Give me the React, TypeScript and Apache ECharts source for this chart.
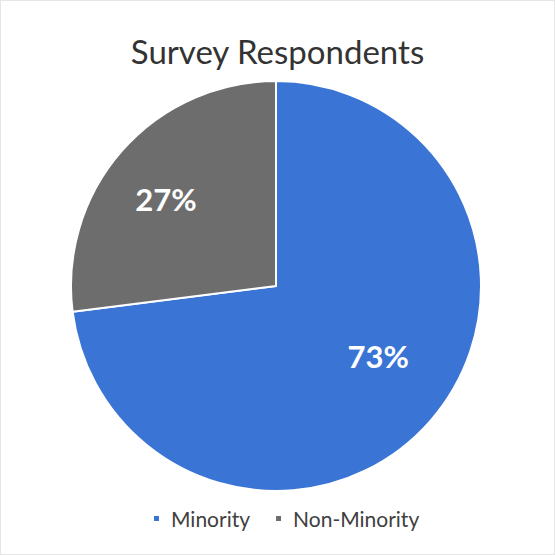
import React, { useEffect, useRef } from "react";
import * as echarts from "echarts";

const titleText = "Survey Respondents";
const categories = ["Minority", "Non-Minority"];
const values = [73, 27];
const colors = ["#3a75d5", "#6d6d6d"];
const labelOffsets: [number, number][] = [[23, 0], [-31, -17]];

export default function App() {
  const ref = useRef<HTMLDivElement>(null);
  useEffect(() => {
    if (!ref.current) return;
    const chart = echarts.init(ref.current, undefined, { renderer: "svg" });
    chart.setOption({
      animation: false,
      backgroundColor: "#ffffff",
      title: {
        text: titleText,
        left: "center",
        top: 28,
        textStyle: { fontFamily: "Lato", fontSize: 33, fontWeight: "normal", color: "#333333" },
      },
      legend: {
        data: categories,
        bottom: 20,
        left: 146,
        icon: "rect",
        itemWidth: 7,
        itemHeight: 7,
        itemGap: 24,
        textStyle: { fontFamily: "Lato", fontSize: 21, color: "#404040", padding: [0, 0, 0, 6] },
      },
      series: [
        {
          type: "pie",
          center: [275, 285],
          radius: 205,
          startAngle: 90,
          clockwise: true,
          label: {
            show: true,
            position: "inside",
            formatter: "{d}%",
            color: "#ffffff",
            fontFamily: "Lato",
            fontWeight: "bold",
            fontSize: 31,
          },
          labelLine: { show: false },
          itemStyle: { borderColor: "#ffffff", borderWidth: 2 },
          data: categories.map((name, i) => ({
            name,
            value: values[i],
            itemStyle: { color: colors[i] },
            label: { offset: labelOffsets[i] },
          })),
        },
      ],
    });
    return () => chart.dispose();
  }, []);
  return (
    <div
      ref={ref}
      style={{
        position: "fixed",
        left: 0,
        top: 0,
        width: 555,
        height: 555,
        boxSizing: "border-box",
        border: "1px solid #e6e6e6",
      }}
    />
  );
}
